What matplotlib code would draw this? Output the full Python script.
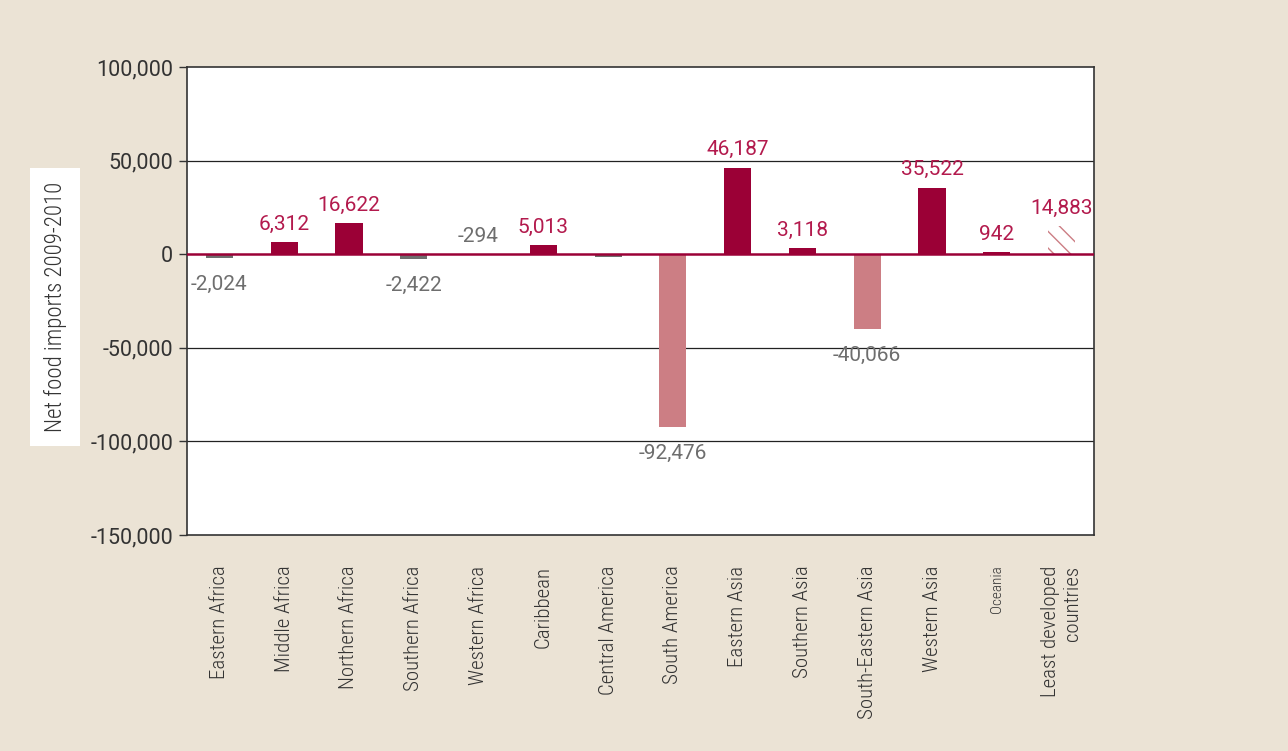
import matplotlib.pyplot as plt
from matplotlib.ticker import FuncFormatter

# data
regions = ['Eastern Africa', 'Middle Africa', 'Northern Africa', 'Southern Africa',
           'Western Africa', 'Caribbean', 'Central America', 'South America',
           'Eastern Asia', 'Southern Asia', 'South-Eastern Asia', 'Western Asia',
           'Oceania', 'Least developed\ncountries']
net_imports = [-2024, 6312, 16622, -2422, -294, 5013, -1700, -92476,
               46187, 3118, -40066, 35522, 942, 14883]
labels = ['-2,024', '6,312', '16,622', '-2,422', '-294', '5,013', '', '-92,476',
          '46,187', '3,118', '-40,066', '35,522', '942', '14,883']

bg = '#ebe3d5'
crimson = '#9b0036'
label_red = '#b31a4d'
grey = '#6e6e6e'
pink = '#cc7e84'
dark = '#333333'

plt.rcParams['font.family'] = ['Roboto Condensed', 'DejaVu Sans']
plt.rcParams['font.weight'] = 'light'
num_font = ['Roboto', 'DejaVu Sans']

fig = plt.figure(figsize=(12.88, 7.51), dpi=100, facecolor=bg)
ax = fig.add_axes([187/1288, 1-535/751, 907/1288, 468/751])
ax.set_facecolor('white')

x = list(range(len(regions)))
for i, v in enumerate(net_imports):
    if i == len(regions) - 1:
        # hatched bar for least developed countries
        ax.bar(i, v, width=0.42, facecolor='none', edgecolor=pink, hatch='\\\\', linewidth=0)
        continue
    if v > 0:
        c = crimson
    elif v < -20000:
        c = pink
    else:
        c = grey
    ax.bar(i, v, width=0.42, color=c, zorder=3)

# value labels
for i, (v, t) in enumerate(zip(net_imports, labels)):
    if not t:
        continue
    kw = dict(ha='center', fontsize=15, family=num_font, weight='normal')
    if v >= 0:
        ax.text(i, v + 4500, t, va='bottom', color=label_red, **kw)
    elif v > -1000:
        ax.text(i, 4500, t, va='bottom', color=grey, **kw)
    else:
        ax.text(i, v - 9000, t, va='top', color=grey, **kw)

ax.set_xlim(-0.5, 13.5)
ax.set_ylim(-150000, 100000)
ax.set_yticks([-150000, -100000, -50000, 0, 50000, 100000])
ax.yaxis.set_major_formatter(FuncFormatter(lambda v, p: f'{int(v):,}'))
for y in [-100000, -50000, 50000]:
    ax.axhline(y, color='#222222', lw=0.9, zorder=1)
ax.axhline(0, color=crimson, lw=1.8, zorder=4)

ax.set_xticks(x)
ax.set_xticklabels(regions, rotation=90, fontsize=15, color=dark,
                   va='top', ha='center', multialignment='right')
ax.get_xticklabels()[12].set_fontsize(11)
ax.tick_params(axis='x', length=0, pad=22)
ax.tick_params(axis='y', labelsize=15.5, labelcolor=dark, length=6, width=1,
               color=dark, pad=4)
for t in ax.get_yticklabels():
    t.set_family(num_font)
    t.set_weight('normal')
for s in ax.spines.values():
    s.set_color(dark)
    s.set_linewidth(1.2)

fig.text(55/1288, 1-307/751, 'Net food imports 2009-2010', rotation=90,
         ha='center', va='center', fontsize=16.5, color=dark,
         bbox=dict(facecolor='white', edgecolor='none', boxstyle='square,pad=0.6'))

fig.savefig('out.png', dpi=100, facecolor=bg)
